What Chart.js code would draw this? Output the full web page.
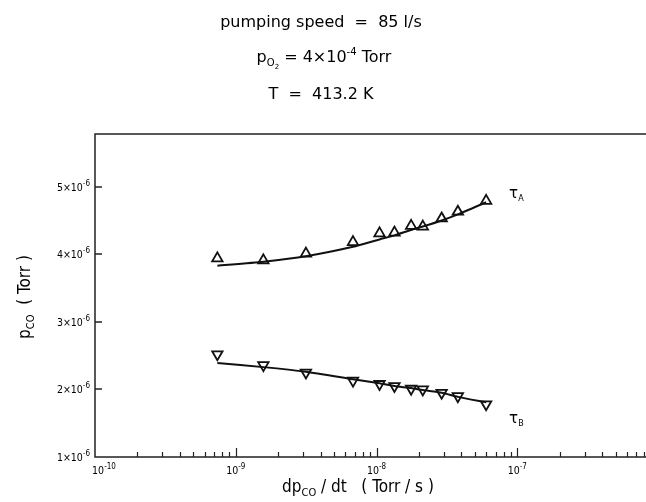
<!DOCTYPE html>
<html>
<head>
<meta charset="utf-8">
<script src="https://cdn.jsdelivr.net/npm/chart.js@4/dist/chart.umd.min.js"></script>
<style>
  html, body { margin: 0; padding: 0; background: #fff; }
  #wrap { width: 646px; height: 502px; }
</style>
</head>
<body>
<div id="wrap"><canvas id="pcoChart" width="646" height="502"></canvas></div>
<script>
// dp_CO/dt (Torr/s) for each measurement
const rates = [7.4e-10, 1.57e-9, 3.15e-9, 6.8e-9, 1.05e-8, 1.34e-8, 1.76e-8, 2.13e-8, 2.9e-8, 3.78e-8, 6.0e-8];
// p_CO (Torr), tau_A branch (upward triangles) and tau_B branch (downward triangles)
const tauA = [3.94e-6, 3.91e-6, 4.01e-6, 4.18e-6, 4.31e-6, 4.32e-6, 4.42e-6, 4.41e-6, 4.53e-6, 4.63e-6, 4.79e-6];
const tauB = [2.52e-6, 2.36e-6, 2.25e-6, 2.13e-6, 2.08e-6, 2.05e-6, 2.01e-6, 2.00e-6, 1.95e-6, 1.90e-6, 1.78e-6];
// drawn-through curves
const fitA = [3.83e-6, 3.89e-6, 3.97e-6, 4.11e-6, 4.22e-6, 4.28e-6, 4.36e-6, 4.41e-6, 4.50e-6, 4.59e-6, 4.77e-6];
const fitB = [2.39e-6, 2.33e-6, 2.26e-6, 2.15e-6, 2.09e-6, 2.05e-6, 2.02e-6, 1.99e-6, 1.95e-6, 1.89e-6, 1.81e-6];

const yTicks = [1e-6, 2e-6, 3e-6, 4e-6, 5e-6];
const yMantissas = ['1', '2', '3', '4', '5'];
const xDecades = [1e-10, 1e-9, 1e-8, 1e-7];
const xExponents = ['-10', '-9', '-8', '-7'];
const xMin = 1e-10, xMax = 8.2e-7;
const yMin = 1e-6, yMax = 5.78e-6;

const FONT = "'DejaVu Sans', sans-serif";
const NARROW = "'DejaVu Sans Condensed', 'DejaVu Sans', sans-serif";
const INK = '#000';

function pts(xs, ys) {
    return xs.map((x, i) => ({ x: x, y: ys[i] }));
}

// draw a run of text pieces with sub/superscripts; parts = [text, size, dy]
function rich(ctx, parts, x, y, align, family) {
    const fam = family || FONT;
    let total = 0;
    parts.forEach(p => {
        ctx.font = p[1] + 'px ' + fam;
        total += ctx.measureText(p[0]).width;
    });
    let cx = x;
    if (align === 'center') cx = x - total / 2;
    if (align === 'right') cx = x - total;
    ctx.textAlign = 'left';
    ctx.textBaseline = 'alphabetic';
    parts.forEach(p => {
        ctx.font = p[1] + 'px ' + fam;
        ctx.fillText(p[0], cx, y + (p[2] || 0));
        cx += ctx.measureText(p[0]).width;
    });
}

const decorations = {
    id: 'decorations',
    afterDraw(chart) {
        const ctx = chart.ctx;
        const xs = chart.scales.x, ys = chart.scales.y;
        const a = chart.chartArea;
        ctx.save();
        ctx.strokeStyle = '#222';
        ctx.fillStyle = INK;
        ctx.lineWidth = 1.5;

        // frame: left, bottom, top
        ctx.beginPath();
        ctx.moveTo(a.right, a.top);
        ctx.lineTo(a.left, a.top);
        ctx.lineTo(a.left, a.bottom);
        ctx.lineTo(a.right, a.bottom);
        ctx.stroke();

        // y ticks (inward) and labels
        yTicks.forEach((v, i) => {
            const py = Math.round(ys.getPixelForValue(v));
            if (i > 0) {
                ctx.beginPath();
                ctx.moveTo(a.left, py);
                ctx.lineTo(a.left + 7, py);
                ctx.stroke();
            }
            rich(ctx, [[yMantissas[i] + '\u00d710', 10.5, 0], ['-6', 8, -5]], a.left - 5, py + 4, 'right', NARROW);
        });

        // x ticks: decades and minor ticks (inward)
        ctx.lineWidth = 1.2;
        for (let d = 0; d < xDecades.length; d++) {
            for (let m = 1; m <= 9; m++) {
                const v = xDecades[d] * m;
                if (v <= xMin || v >= xMax) continue;
                const px = Math.round(xs.getPixelForValue(v)) + 0.5;
                const len = m === 1 ? 9 : 5;
                ctx.beginPath();
                ctx.moveTo(px, a.bottom);
                ctx.lineTo(px, a.bottom - len);
                ctx.stroke();
            }
        }
        xDecades.forEach((v, i) => {
            const px = xs.getPixelForValue(v);
            const off = i === 0 ? 9 : 0;
            rich(ctx, [['10', 10.5, 0], [xExponents[i], 8, -5]], px + off, a.bottom + 17, 'center', NARROW);
        });

        // series labels next to the last points
        const lastA = chart.getDatasetMeta(1).data[rates.length - 1];
        const lastB = chart.getDatasetMeta(3).data[rates.length - 1];
        rich(ctx, [['\u03c4', 15, 0], ['A', 8, 3]], lastA.x + 23, lastA.y - 3, 'left');
        rich(ctx, [['\u03c4', 15, 0], ['B', 8, 3]], lastB.x + 23, lastB.y + 19, 'left');

        // axis titles
        rich(ctx, [['dp', 17, 0], ['CO', 11, 4], [' / dt   ( Torr / s )', 17, 0]], 358, 492, 'center', NARROW);
        ctx.save();
        ctx.translate(30, 297);
        ctx.rotate(-Math.PI / 2);
        rich(ctx, [['p', 17, 0], ['CO', 11, 4], ['  ( Torr )', 17, 0]], 0, 0, 'center', NARROW);
        ctx.restore();

        // header lines
        rich(ctx, [['pumping speed  =  85 l/s', 16, 0]], 321, 27, 'center');
        rich(ctx, [['p', 16, 0], ['O', 10, 4], ['2', 7, 7], [' = 4\u00d710', 16, 0], ['-4', 10, -7], [' Torr', 16, 0]], 324, 62, 'center');
        rich(ctx, [['T  =  413.2 K', 16, 0]], 321, 99, 'center');

        ctx.restore();
    }
};

const lineStyle = { showLine: true, pointRadius: 0, borderColor: '#111', borderWidth: 2, fill: false, tension: 0.2 };
const markStyle = { showLine: false, pointStyle: 'triangle', pointRadius: 6, pointBorderWidth: 1.8,
    pointBorderColor: '#111', pointBackgroundColor: '#fff' };

new Chart(document.getElementById('pcoChart').getContext('2d'), {
    type: 'scatter',
    data: {
        datasets: [
            Object.assign({ label: 'fit A', data: pts(rates, fitA) }, lineStyle),
            Object.assign({ label: 'tau A', data: pts(rates, tauA), pointRotation: 0 }, markStyle),
            Object.assign({ label: 'fit B', data: pts(rates, fitB) }, lineStyle),
            Object.assign({ label: 'tau B', data: pts(rates, tauB), pointRotation: 180 }, markStyle)
        ]
    },
    options: {
        responsive: false,
        animation: false,
        layout: { autoPadding: false, padding: { left: 95, right: 0, top: 134, bottom: 45 } },
        plugins: { legend: { display: false }, tooltip: { enabled: false }, title: { display: false } },
        scales: {
            x: { type: 'logarithmic', min: xMin, max: xMax, display: false },
            y: { type: 'linear', min: yMin, max: yMax, display: false }
        }
    },
    plugins: [decorations]
});
</script>
</body>
</html>
